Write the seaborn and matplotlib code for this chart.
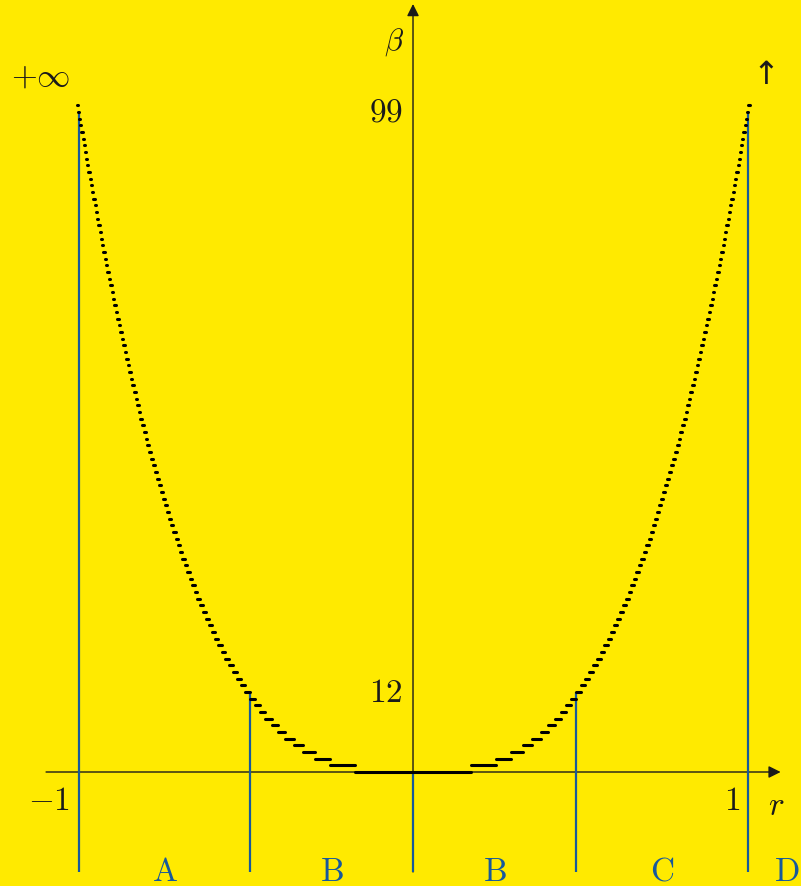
import numpy as np
import pandas as pd
import matplotlib
matplotlib.use("Agg")
import matplotlib.pyplot as plt
import seaborn as sns

# ---- data -------------------------------------------------------------
# beta is an integer step function of r, symmetric about r = 0.
# Level 0 spans [-edges[0], edges[0]]; level k (k >= 1) spans
# [edges[k-1], edges[k]] on the right and the mirror image on the left.
step_edges = [
    0.172, 0.247, 0.293, 0.328, 0.357, 0.382, 0.403, 0.423, 0.441, 0.458,
    0.473, 0.488, 0.502, 0.515, 0.527, 0.539, 0.550, 0.561, 0.572, 0.582,
    0.592, 0.601, 0.610, 0.619, 0.628, 0.636, 0.645, 0.652, 0.660, 0.668,
    0.675, 0.683, 0.690, 0.697, 0.704, 0.710, 0.717, 0.723, 0.730, 0.736,
    0.742, 0.748, 0.754, 0.760, 0.766, 0.772, 0.777, 0.783, 0.788, 0.794,
    0.799, 0.804, 0.809, 0.815, 0.820, 0.825, 0.829, 0.834, 0.839, 0.844,
    0.849, 0.853, 0.858, 0.862, 0.867, 0.871, 0.876, 0.880, 0.884, 0.889,
    0.893, 0.897, 0.901, 0.905, 0.909, 0.914, 0.918, 0.922, 0.926, 0.929,
    0.933, 0.937, 0.941, 0.945, 0.949, 0.952, 0.956, 0.960, 0.963, 0.967,
    0.971, 0.974, 0.978, 0.981, 0.985, 0.988, 0.992, 0.995, 0.998,
    1.002, 1.006,
]
step_levels = list(range(0, 101))

# region boundaries (vertical blue lines) and the level where each meets the curve
boundary_r = [-1.0, -0.488, 0.0, 0.488, 1.0]
boundary_top = [99, 12, 0, 12, 99]

# region names and their centres along r
region_names = ["A", "B", "B", "C", "D"]
region_r = [-0.741, -0.242, 0.245, 0.744, 1.118]

ytick_values = [12, 99]
xtick_values = [-1, 1]

# ---- build segments -----------------------------------------------------
rows = []
seg = 0
for lvl in step_levels:
    if lvl == 0:
        rows += [(-step_edges[0], 0, seg), (step_edges[0], 0, seg)]
        seg += 1
        continue
    a, b = step_edges[lvl - 1], step_edges[lvl]
    rows += [(a, lvl, seg), (b, lvl, seg)]
    seg += 1
    rows += [(-b, lvl, seg), (-a, lvl, seg)]
    seg += 1
steps = pd.DataFrame(rows, columns=["r", "beta", "seg"])

# ---- style --------------------------------------------------------------
yellow = "#ffea00"
blue = "#17599c"
ink = "#1a1a1a"

sns.set_theme(style="white")
plt.rcParams["mathtext.fontset"] = "cm"
plt.rcParams["font.family"] = ["DejaVu Serif", "DejaVu Sans"]

fig = plt.figure(figsize=(8.01, 8.87), dpi=100)
fig.patch.set_facecolor(yellow)
ax = fig.add_axes([0, 0, 1, 1])
ax.set_facecolor(yellow)
ax.set_xlim(-1.2347, 1.1599)
ax.set_ylim(-17.1, 115.95)
ax.axis("off")

# axes with arrow heads
arrow = dict(arrowstyle="-|>", color=ink, lw=1.0, mutation_scale=18,
             shrinkA=0, shrinkB=0)
ax.annotate("", xy=(1.099, 0), xytext=(-1.097, 0), arrowprops=arrow, zorder=2)
ax.annotate("", xy=(0, 115.2), xytext=(0, -15), arrowprops=arrow, zorder=2)

# region boundaries
ax.vlines(boundary_r, -15, boundary_top, color=blue, lw=1.6, zorder=3)

# the step function
sns.lineplot(data=steps, x="r", y="beta", units="seg", estimator=None,
             sort=False, color="black", lw=2.2, legend=False, ax=ax,
             solid_capstyle="round", zorder=4)
ax.set_xlabel("")
ax.set_ylabel("")

fs = 24
for v in ytick_values:
    ax.text(-0.030, v, f"${v}$", ha="right", va="center", fontsize=fs, color=ink)
for v in xtick_values:
    ax.text(v - 0.0254 if v < 0 else v - 0.0224, -4.2, f"${v}$",
            ha="right", va="center", fontsize=fs, color=ink)

ax.text(1.085, -4.9, r"$r$", ha="center", va="center", fontsize=fs, color=ink)
ax.text(-0.0568, 109.6, r"$\beta$", ha="center", va="center", fontsize=22, color=ink)
ax.text(-1.112, 104.4, r"$+\infty$", ha="center", va="center", fontsize=fs, color=ink)
ax.text(1.0553, 104.6, "\u2191", ha="center", va="center", fontsize=23,
        color=ink, family=["DejaVu Sans"])

for name, rc in zip(region_names, region_r):
    ax.text(rc, -14.8, rf"$\mathrm{{{name}}}$", ha="center", va="center",
            fontsize=fs, color=blue)

fig.savefig("out.png", dpi=100, facecolor=yellow)
